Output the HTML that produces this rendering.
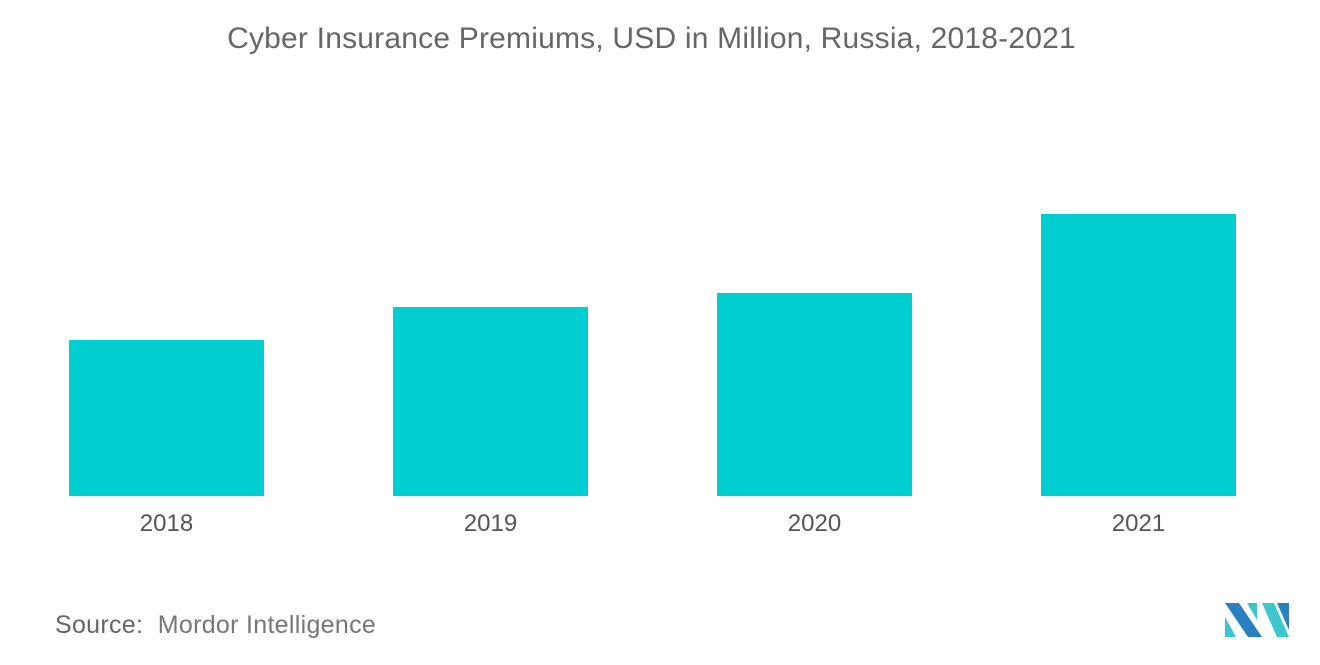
<!DOCTYPE html>
<html><head><meta charset="utf-8"><style>
body{margin:0;width:1320px;height:665px;background:#fff;font-family:"Liberation Sans",sans-serif;overflow:hidden;position:relative}
.title{position:absolute;top:22px;left:0;width:1303px;text-align:center;font-size:30px;color:#666;letter-spacing:0.2px}
.src{position:absolute;left:55px;top:611px;font-size:25px;color:#777;letter-spacing:0.3px}
</style></head><body>
<div class="title">Cyber Insurance Premiums, USD in Million, Russia, 2018-2021</div>
<svg id="chart" width="1320" height="665" style="position:absolute;left:0;top:0"></svg>
<div class="src"><span style="color:#666">Source:</span>&nbsp; Mordor Intelligence</div>
<svg width="70" height="40" style="position:absolute;left:1222px;top:600px">
<polygon points="3,3 17,3 40,37 26,37" fill="#2a7fc0"/>
<polygon points="3,17 14,37 3,37" fill="#3cc7d0"/>
<polygon points="25,3 35,3 35,20" fill="#3cc7d0"/>
<polygon points="40,3 52,3 67,37 55,37" fill="#3cc7d0"/>
<polygon points="55,3 67,3 67,30" fill="#2a7fc0"/>
</svg>
<script>
const categories=["2018","2019","2020","2021"];
const values=[15.6,18.9,20.3,28.2];
const svg=document.getElementById('chart');
const NS="http://www.w3.org/2000/svg";
const base=496, scale=10, x0=69, step=324, bw=195;
const y=v=>base-v*scale;
categories.forEach((c,i)=>{
 const r=document.createElementNS(NS,'rect');
 r.setAttribute('x',x0+i*step);r.setAttribute('width',bw);
 r.setAttribute('y',y(values[i]));r.setAttribute('height',base-y(values[i]));
 r.setAttribute('fill','#00ced1');
 
 
 svg.appendChild(r);
 const t=document.createElementNS(NS,'text');
 t.setAttribute('x',x0+i*step+bw/2);t.setAttribute('y',531);
 t.setAttribute('text-anchor','middle');t.setAttribute('font-size','24');
 t.setAttribute('fill','#555');t.setAttribute('font-family','Liberation Sans, sans-serif');
 t.textContent=c;
 
 
 svg.appendChild(t);
});
</script>
</body></html>
